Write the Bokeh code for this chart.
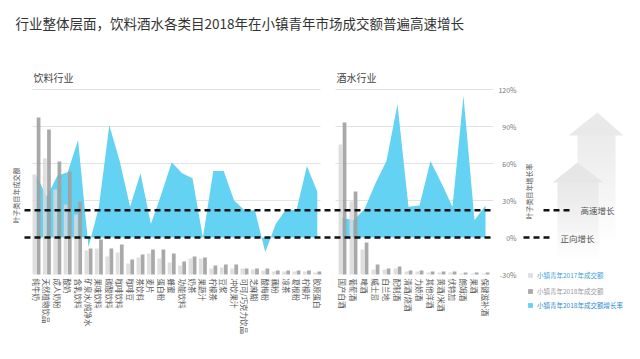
import math
import numpy as np
from bokeh.plotting import figure
from bokeh.models import Range1d, ColumnDataSource, Legend, LegendItem
from bokeh.core.properties import value
from bokeh.transform import dodge
from bokeh.embed import file_html
from bokeh.resources import INLINE

# ---------------- data ----------------
title_text = "行业整体层面，饮料酒水各类目2018年在小镇青年市场成交额普遍高速增长"
panel_titles = ["饮料行业", "酒水行业"]

bev_cats = ["纯牛奶", "天然植物饮品", "成人奶粉", "酸奶", "含乳饮料", "矿泉水/纯净水",
            "果味饮料", "碳酸饮料", "咖啡饮料", "咖啡豆", "茶饮料", "麦片", "蛋白粉",
            "蜂蜜", "功能饮料", "奶茶", "果蔬汁", "柠檬茶", "豆浆", "冲饮果汁",
            "可可/巧克力饮品", "芝麻糊", "酸梅粉", "藕粉", "凉茶", "葛根粉", "柠檬片", "胶原蛋白"]
bev_gmv_2017 = [100, 116, 85, 70, 60, 24, 26, 18, 22, 11, 17, 21, 16, 12,
                9, 16, 16, 6, 7, 6, 6, 5, 4, 3, 3, 3, 3, 2]
bev_gmv_2018 = [157, 145, 113, 103, 73, 26, 35, 26, 30, 15, 20, 25, 25, 21,
                13, 18, 17, 9, 10, 10, 6, 6, 6, 4, 4, 4, 4, 3]
bev_growth = [50, 33, 50, 53, 79, -8, 25, 91, 62, 25, 52, 11, 35, 61,
              52, 48, 0, 54, 54, 30, 22, 22, -12, 11, 23, 22, 58, 37]

alc_cats = ["国产白酒", "葡萄酒", "啤酒", "威士忌", "白兰地", "配制酒", "清酒/烧酒",
            "力娇酒", "其他洋酒", "黄酒/米酒", "伏特加", "朗姆酒", "果酒", "保健滋补酒"]
alc_gmv_2017 = [130, 73, 25, 5, 5, 6, 3, 3, 2, 2, 2, 1, 1, 1]
alc_gmv_2018 = [152, 83, 32, 10, 6, 8, 4, 4, 3, 3, 3, 2, 2, 2]
alc_growth = [16, 14, 23, 44, 62, 108, 25, 26, 62, 44, 25, 115, 14, 26]

pct_ticks = [120, 90, 60, 30, 0, -30]
pct_labels = ["120%", "90%", "60%", "30%", "0%", "-30%"]
grid_levels = [30, 60, 90, 120]
thresholds = [22, 0]
threshold_labels = ["高速增长", "正向增长"]
axis_titles = ["叶子类目年成交额", "叶子类目年增长率"]
legend_labels = ["小镇青年2017年成交额", "小镇青年2018年成交额", "小镇青年2018年成交额增长率"]

FONT = "Noto Sans CJK SC"
C17, C18, CBLUE = "#d9d9d9", "#a0a0a0", "#64d2f2"

# ---------------- layout helpers ----------------
W, H = 624, 343
def ux(X):  # picture x pixel -> x units
    return (X - 36) / 10.4
def gy(Y):  # picture y pixel -> growth %
    return (237 - Y) * 30 / 37

bev_x = np.round(np.arange(len(bev_cats)) * 1.0, 3)
alc_x = np.round(29.42 + np.arange(len(alc_cats)) * 1.058, 3)

src_bev = ColumnDataSource(dict(x=bev_x, growth=bev_growth))
src_alc = ColumnDataSource(dict(x=alc_x, growth=alc_growth))
src_all = ColumnDataSource(dict(
    x=np.concatenate([bev_x, alc_x]),
    cat=bev_cats + alc_cats,
    g17=bev_gmv_2017 + alc_gmv_2017,
    g18=bev_gmv_2018 + alc_gmv_2018,
))

p = figure(width=W, height=H, x_range=Range1d(ux(0), ux(W)),
           y_range=Range1d(gy(H), gy(0)),
           output_backend="svg", toolbar_location=None, min_border=0,
           x_axis_location=None, y_axis_location=None)
p.extra_y_ranges = {"gmv": Range1d(274 - H, 274)}
p.grid.visible = False
p.outline_line_color = None
p.background_fill_color = "white"

# title and panel titles
p.text(x=[ux(15)], y=[gy(22)], text=[title_text], text_font=value(FONT),
       text_font_size="13.5px", text_color="#333333", text_baseline="middle")
p.text(x=[ux(33), ux(336)], y=[gy(77), gy(77)], text=panel_titles, text_font=value(FONT),
       text_font_size="10px", text_color="#444444", text_baseline="middle")

# gridlines
p.segment(x0=ux(32), x1=ux(320), y0=grid_levels, y1=grid_levels, line_color="#e2e2e2", line_width=1)
p.segment(x0=ux(335), x1=ux(493), y0=grid_levels, y1=grid_levels, line_color="#e2e2e2", line_width=1)

# arrows (decoration)
def arrow(apex_x, apex_y, hl, hr, hb, sl, sr, sb, shade):
    n = 26
    ys = np.linspace(hb, sb, n + 1)
    cols = []
    for i in range(n):
        c = int(round(shade + (255 - shade) * (i / (n - 1)) ** 1.2))
        cols.append("#%02x%02x%02x" % (c, c, c))
    p.quad(left=ux(sl), right=ux(sr), top=[gy(y - 0.6) for y in ys[:-1]],
           bottom=[gy(y) for y in ys[1:]], fill_color=cols, line_color=None)
    p.patch([ux(hl), ux(apex_x), ux(hr)], [gy(hb), gy(apex_y), gy(hb)],
            fill_color="#%02x%02x%02x" % (shade - 3, shade - 3, shade - 3), line_color=None)

arrow(597, 112, 568, 623, 135, 577, 615, 245, 236)
arrow(577, 162, 552, 603, 182, 557, 598, 262, 233)

# growth areas
ra = p.varea(x="x", y1=0, y2="growth", source=src_bev, fill_color=CBLUE)
p.varea(x="x", y1=0, y2="growth", source=src_alc, fill_color=CBLUE)

# bars
r17 = p.vbar(x=dodge("x", -0.2, range=p.x_range), top="g17", bottom=0, width=0.36,
             source=src_all, y_range_name="gmv", fill_color=C17, fill_alpha=0.85, line_color=None)
r18 = p.vbar(x=dodge("x", 0.2, range=p.x_range), top="g18", bottom=0, width=0.36,
             source=src_all, y_range_name="gmv", fill_color=C18, fill_alpha=0.9, line_color=None)

# threshold dashed lines
p.segment(x0=ux(24), x1=ux(493), y0=thresholds, y1=thresholds,
          line_color="#111111", line_width=2.5, line_dash="6 4")
p.segment(x0=[ux(543), ux(523)], x1=[ux(570), ux(550)], y0=thresholds, y1=thresholds,
          line_color="#111111", line_width=2.5, line_dash="6 4")
p.text(x=[ux(580), ux(560)], y=thresholds, text=threshold_labels, text_font=value(FONT),
       text_font_size="8.5px", text_color="#555555", text_baseline="middle")

# category labels
p.text(x="x", y=gy(278), text="cat", source=src_all, angle=-math.pi / 2,
       text_align="left", text_baseline="middle", text_font=value(FONT),
       text_font_size="7.5px", text_color="#555555")

# percentage tick labels
p.text(x=ux(516), y=pct_ticks, text=pct_labels, text_align="right", text_baseline="middle",
       text_font=value(FONT), text_font_size="7px", text_color="#777777")

# rotated axis titles
p.text(x=[ux(15), ux(528)], y=[gy(195), gy(191)], text=axis_titles, angle=math.pi / 2,
       text_align="center", text_baseline="middle", text_font=value(FONT),
       text_font_size="7px", text_color="#555555")

# legends
def add_legend(label, rend, y, color):
    lg = Legend(items=[LegendItem(label=label, renderers=[rend])], location=(527, y),
                glyph_width=6, glyph_height=6, label_text_font=FONT,
                label_text_font_size="6.5px", label_text_color=color, label_standoff=4,
                label_height=8, padding=0, margin=0, spacing=0,
                border_line_color=None, background_fill_alpha=0)
    p.add_layout(lg)

add_legend(legend_labels[0], r17, 63, "#3d9fd6")
add_legend(legend_labels[1], r18, 47, "#9a9a9a")
add_legend(legend_labels[2], ra, 33, "#2a8ccf")

open("out.html", "w").write(file_html(p, INLINE))
